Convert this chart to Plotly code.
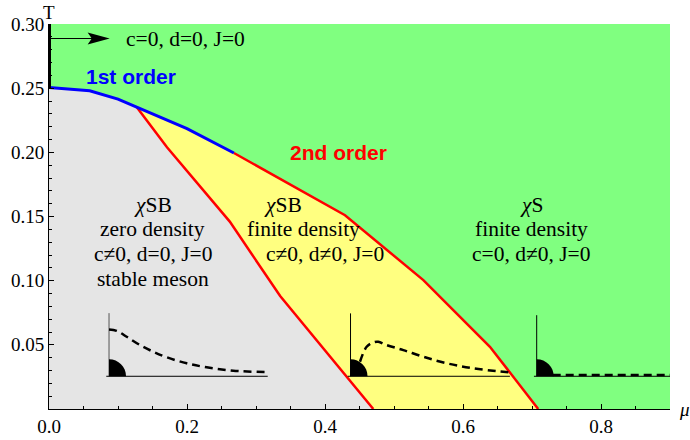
import plotly.graph_objects as go

# phase boundaries (mu, T)
mu_first = [0.0, 0.059, 0.100, 0.127, 0.200, 0.268]
T_first = [0.2506, 0.248, 0.2415, 0.2353, 0.2184, 0.1995]

mu_left = [0.127, 0.171, 0.262, 0.335, 0.470]
T_left = [0.2353, 0.204, 0.146, 0.088, 0.0]

mu_second = [0.268, 0.429, 0.5425, 0.639, 0.709]
T_second = [0.1995, 0.151, 0.1004, 0.0485, 0.0]

# little inset sketches (origin, top of vertical axis, end of horizontal axis)
inset_mu0 = [0.087, 0.437, 0.7068]
inset_T0 = [0.0255, 0.0255, 0.0255]
inset_Ttop = [0.0747, 0.0745, 0.0731]
inset_muend = [0.317, 0.668, 0.9]
inset_axcolor = ["#555555", "black", "black"]

curve1_mu = [0.087, 0.098, 0.1126, 0.1319, 0.1512, 0.1706, 0.1996, 0.2285, 0.2671, 0.3154]
curve1_T = [0.0620, 0.0609, 0.0563, 0.0498, 0.0446, 0.0403, 0.0356, 0.0325, 0.0299, 0.0287]
curve2_mu = [0.4507, 0.4604, 0.4700, 0.4772, 0.4894, 0.5135, 0.5425, 0.5764, 0.6149, 0.6657]
curve2_T = [0.0368, 0.0485, 0.0519, 0.0524, 0.0498, 0.0459, 0.0407, 0.0356, 0.0317, 0.0286]
curve3_mu = [0.730, 0.9]
curve3_T = [0.0265, 0.0265]

# arrow at the top of the T axis
arrow_mu = [0.0, 0.088]
arrow_T = 0.2887

# phase labels: one entry per line (mu of line centre)
left_lines = ["<i>χ</i>SB", "zero density", "c≠0, d=0, J=0", "stable meson"]
left_mu = [0.150, 0.150, 0.150, 0.150]
mid_lines = ["<i>χ</i>SB", "finite density", "c≠0, d≠0, J=0"]
mid_mu = [0.3395, 0.369, 0.3996]
right_lines = ["<i>χ</i>S", "finite density", "c=0, d≠0, J=0"]
right_mu = [0.699, 0.699, 0.699]
label_T = 0.1588

GREEN = "#80FF80"
YELLOW = "#FFFF80"
GRAY = "#E5E5E5"
SERIF = "Liberation Serif"
SANS = "Liberation Sans"

fig = go.Figure()

# yellow region
yx = mu_left + mu_second[::-1] + mu_first[3:][::-1]
yy = T_left + T_second[::-1] + T_first[3:][::-1]
fig.add_trace(go.Scatter(x=yx, y=yy, fill="toself", fillcolor=YELLOW,
                         line=dict(width=0), mode="lines", hoverinfo="skip"))
# gray region
gx = [0.0] + mu_first[:4] + mu_left[1:]
gy = [0.0] + T_first[:4] + T_left[1:]
fig.add_trace(go.Scatter(x=gx, y=gy, fill="toself", fillcolor=GRAY,
                         line=dict(width=0), mode="lines", hoverinfo="skip"))

# boundaries
fig.add_trace(go.Scatter(x=mu_left, y=T_left, mode="lines",
                         line=dict(color="#FF0000", width=2.5)))
fig.add_trace(go.Scatter(x=mu_second, y=T_second, mode="lines",
                         line=dict(color="#FF0000", width=2.5)))
fig.add_trace(go.Scatter(x=mu_first, y=T_first, mode="lines",
                         line=dict(color="#0000FF", width=3)))

# thick segment on T axis
fig.add_trace(go.Scatter(x=[0, 0], y=[0.25, 0.30], mode="lines", cliponaxis=False,
                         line=dict(color="black", width=4)))

# arrow: shaft + notched head
fig.add_trace(go.Scatter(x=[arrow_mu[0], arrow_mu[1] - 0.02], y=[arrow_T, arrow_T],
                         mode="lines", line=dict(color="black", width=1.2)))
tip = arrow_mu[1]
fig.add_shape(type="path", xref="x", yref="y", fillcolor="black", line_width=0,
              path=f"M {tip},{arrow_T} L {tip - 0.032},{arrow_T + 0.0047} "
                   f"L {tip - 0.026},{arrow_T} L {tip - 0.032},{arrow_T - 0.0047} Z")

# insets
rx, ry = 0.0246, 0.0132
k = 0.5523
for i in range(3):
    m0, t0 = inset_mu0[i], inset_T0[i]
    fig.add_trace(go.Scatter(x=[m0, m0], y=[t0, inset_Ttop[i]], mode="lines",
                             line=dict(color=inset_axcolor[i], width=1)))
    fig.add_trace(go.Scatter(x=[m0 - 0.004, inset_muend[i]], y=[t0, t0], mode="lines",
                             line=dict(color="black", width=1)))
    fig.add_shape(type="path", xref="x", yref="y", fillcolor="black", line_width=0,
                  path=f"M {m0},{t0} L {m0 + rx},{t0} "
                       f"C {m0 + rx},{t0 + k * ry} {m0 + k * rx},{t0 + ry} {m0},{t0 + ry} Z")

for cx, cy in [(curve1_mu, curve1_T), (curve2_mu, curve2_T), (curve3_mu, curve3_T)]:
    fig.add_trace(go.Scatter(x=cx, y=cy, mode="lines", line_shape="spline",
                             line=dict(color="black", width=2.5, dash="8px,5px")))

txt = dict(family=SERIF, size=21.5, color="black")
fig.add_annotation(x=0.109, y=arrow_T, text="c=0, d=0, J=0", showarrow=False,
                   xanchor="left", font=txt)
fig.add_annotation(x=0.119, y=0.259, text="<b>1st order</b>", showarrow=False,
                   font=dict(family=SANS, size=21, color="#0000FF"))
fig.add_annotation(x=0.419, y=0.200, text="<b>2nd order</b>", showarrow=False,
                   font=dict(family=SANS, size=21, color="#FF0000"))

shifts = [0, -23.5, -48.5, -74]
for lines, mus in [(left_lines, left_mu), (mid_lines, mid_mu), (right_lines, right_mu)]:
    for j, (line, m) in enumerate(zip(lines, mus)):
        fig.add_annotation(x=m, y=label_T, text=line, showarrow=False, font=txt,
                           yshift=shifts[j])

fig.add_annotation(x=0, y=1, xref="paper", yref="paper", yanchor="bottom", xanchor="center",
                   text="T", showarrow=False, font=dict(family=SERIF, size=19), yshift=-1)
fig.add_annotation(x=1, y=0, xref="paper", yref="paper", xanchor="left", yanchor="middle",
                   text="<i>μ</i>", showarrow=False, font=dict(family=SERIF, size=19), xshift=7)

fig.update_layout(
    width=690, height=440,
    margin=dict(l=49, r=20, t=24, b=31),
    paper_bgcolor="white", plot_bgcolor=GREEN,
    showlegend=False,
    font=dict(family=SERIF, size=19, color="black"),
)
fig.update_xaxes(range=[0, 0.9], showgrid=False, zeroline=False, showline=True,
                 automargin=False,
                 linecolor="black", linewidth=1, ticks="inside", ticklen=5,
                 tickcolor="black", dtick=0.2, tick0=0, tickformat=".1f",
                 minor=dict(dtick=0.05, ticks="inside", ticklen=3, tickcolor="black"))
fig.update_yaxes(range=[0, 0.30], showgrid=False, zeroline=False, showline=True,
                 automargin=False,
                 linecolor="black", linewidth=1, ticks="inside", ticklen=5,
                 tickcolor="black", tickvals=[0.05, 0.10, 0.15, 0.20, 0.25, 0.30],
                 ticktext=["0.05", "0.10", "0.15", "0.20", "0.25", "0.30"],
                 minor=dict(dtick=0.01, ticks="inside", ticklen=3, tickcolor="black"))

# drop the browser's default 8px body margin so the figure sits at the page corner
fig.write_html("out.html", config=dict(displayModeBar=False),
               post_script="document.body.style.margin='0';")
